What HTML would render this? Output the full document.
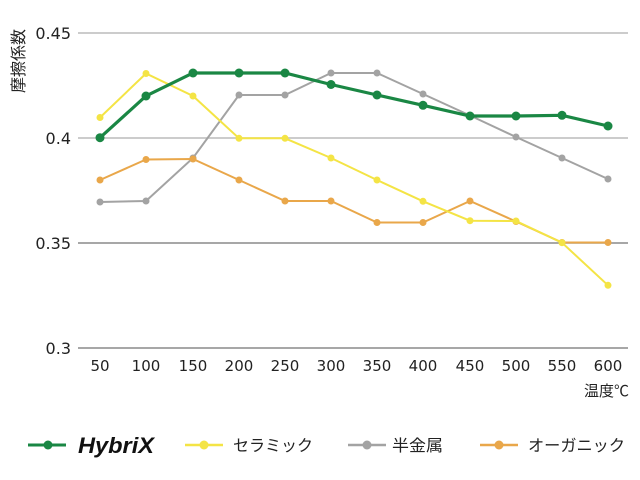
<!DOCTYPE html>
<html><head><meta charset="utf-8"><style>
html,body{margin:0;padding:0;background:#fff;}
svg{display:block;}
text{font-family:"Liberation Sans","Noto Sans CJK JP",sans-serif;fill:#222;}
.num{font-family:"DejaVu Sans","Liberation Sans",sans-serif;}
</style></head><body>
<svg width="640" height="480" viewBox="0 0 640 480" xmlns="http://www.w3.org/2000/svg">
<rect width="640" height="480" fill="#fff"/>
<g stroke-width="1.5">
<line x1="78" y1="33" x2="628" y2="33" stroke="#bbbbbb"/>
<line x1="78" y1="138" x2="628" y2="138" stroke="#bbbbbb"/>
<line x1="78" y1="243" x2="628" y2="243" stroke="#8a8a8a"/>
<line x1="78" y1="348" x2="628" y2="348" stroke="#8a8a8a"/>
</g>
<g font-size="16" text-anchor="end" class="num">
<text class="num" x="71" y="39">0.45</text>
<text class="num" x="71" y="144">0.4</text>
<text class="num" x="71" y="249">0.35</text>
<text class="num" x="71" y="354">0.3</text>
</g>
<text transform="translate(24,61) rotate(-90)" font-size="16" text-anchor="middle">摩擦係数</text>
<g font-size="15" text-anchor="middle">
<text class="num" x="100" y="371">50</text>
<text class="num" x="146" y="371">100</text>
<text class="num" x="193" y="371">150</text>
<text class="num" x="239" y="371">200</text>
<text class="num" x="285" y="371">250</text>
<text class="num" x="331" y="371">300</text>
<text class="num" x="377" y="371">350</text>
<text class="num" x="423" y="371">400</text>
<text class="num" x="470" y="371">450</text>
<text class="num" x="516" y="371">500</text>
<text class="num" x="562" y="371">550</text>
<text class="num" x="608" y="371">600</text>
</g>
<text x="629" y="396" font-size="15" text-anchor="end">温度℃</text>

<!-- 半金属 gray -->
<polyline fill="none" stroke="#a3a3a3" stroke-width="2" points="100,202 146,201 193,158 239,95 285,95 331,73 377,73 423,94 470,115.5 516,137 562,158 608,179"/>
<g fill="#a3a3a3">
<circle cx="100" cy="202" r="3.5"/><circle cx="146" cy="201" r="3.5"/><circle cx="193" cy="158" r="3.5"/><circle cx="239" cy="95" r="3.5"/><circle cx="285" cy="95" r="3.5"/><circle cx="331" cy="73" r="3.5"/><circle cx="377" cy="73" r="3.5"/><circle cx="423" cy="94" r="3.5"/><circle cx="470" cy="115.5" r="3.5"/><circle cx="516" cy="137" r="3.5"/><circle cx="562" cy="158" r="3.5"/><circle cx="608" cy="179" r="3.5"/>
</g>
<!-- オーガニック orange -->
<polyline fill="none" stroke="#e9a74a" stroke-width="2" points="100,180 146,159.5 193,159 239,180 285,201 331,201 377,222.5 423,222.5 470,201 516,221.5 562,242.5 608,242.5"/>
<g fill="#e9a74a">
<circle cx="100" cy="180" r="3.5"/><circle cx="146" cy="159.5" r="3.5"/><circle cx="193" cy="159" r="3.5"/><circle cx="239" cy="180" r="3.5"/><circle cx="285" cy="201" r="3.5"/><circle cx="331" cy="201" r="3.5"/><circle cx="377" cy="222.5" r="3.5"/><circle cx="423" cy="222.5" r="3.5"/><circle cx="470" cy="201" r="3.5"/><circle cx="516" cy="221.5" r="3.5"/><circle cx="562" cy="242.5" r="3.5"/><circle cx="608" cy="242.5" r="3.5"/>
</g>
<!-- セラミック yellow -->
<polyline fill="none" stroke="#f4e445" stroke-width="2" points="100,117.5 146,73.5 193,96 239,138.3 285,138.3 331,158 377,180 423,201.3 470,220.7 516,221 562,242.7 608,285.3"/>
<g fill="#f4e445">
<circle cx="100" cy="117.5" r="3.5"/><circle cx="146" cy="73.5" r="3.5"/><circle cx="193" cy="96" r="3.5"/><circle cx="239" cy="138.3" r="3.5"/><circle cx="285" cy="138.3" r="3.5"/><circle cx="331" cy="158" r="3.5"/><circle cx="377" cy="180" r="3.5"/><circle cx="423" cy="201.3" r="3.5"/><circle cx="470" cy="220.7" r="3.5"/><circle cx="516" cy="221" r="3.5"/><circle cx="562" cy="242.7" r="3.5"/><circle cx="608" cy="285.3" r="3.5"/>
</g>
<!-- HybriX green -->
<polyline fill="none" stroke="#1a8744" stroke-width="3.2" points="100,137.7 146,96 193,73 239,73 285,73 331,84.5 377,95 423,105.3 470,116 516,116 562,115.3 608,126"/>
<g fill="#1a8744">
<circle cx="100" cy="137.7" r="4.5"/><circle cx="146" cy="96" r="4.5"/><circle cx="193" cy="73" r="4.5"/><circle cx="239" cy="73" r="4.5"/><circle cx="285" cy="73" r="4.5"/><circle cx="331" cy="84.5" r="4.5"/><circle cx="377" cy="95" r="4.5"/><circle cx="423" cy="105.3" r="4.5"/><circle cx="470" cy="116" r="4.5"/><circle cx="516" cy="116" r="4.5"/><circle cx="562" cy="115.3" r="4.5"/><circle cx="608" cy="126" r="4.5"/>
</g>

<!-- Legend -->
<line x1="28" y1="445" x2="66" y2="445" stroke="#1a8744" stroke-width="3"/>
<circle cx="48" cy="445" r="4.5" fill="#1a8744"/>
<text x="78" y="453" font-size="22" font-weight="bold" font-style="italic" style="fill:#111" textLength="76" lengthAdjust="spacingAndGlyphs">HybriX</text>

<line x1="185" y1="445" x2="223" y2="445" stroke="#f4e445" stroke-width="2.5"/>
<circle cx="204" cy="445" r="4.5" fill="#f4e445"/>
<text x="233" y="451" font-size="16" textLength="80" lengthAdjust="spacingAndGlyphs">セラミック</text>

<line x1="348" y1="445" x2="386" y2="445" stroke="#a3a3a3" stroke-width="2.5"/>
<circle cx="367" cy="445" r="4.5" fill="#a3a3a3"/>
<text x="392" y="451" font-size="16" textLength="51" lengthAdjust="spacingAndGlyphs">半金属</text>

<line x1="480" y1="445" x2="518" y2="445" stroke="#e9a74a" stroke-width="2.5"/>
<circle cx="499" cy="445" r="4.5" fill="#e9a74a"/>
<text x="528" y="451" font-size="16" textLength="97" lengthAdjust="spacingAndGlyphs">オーガニック</text>
</svg>
</body></html>
